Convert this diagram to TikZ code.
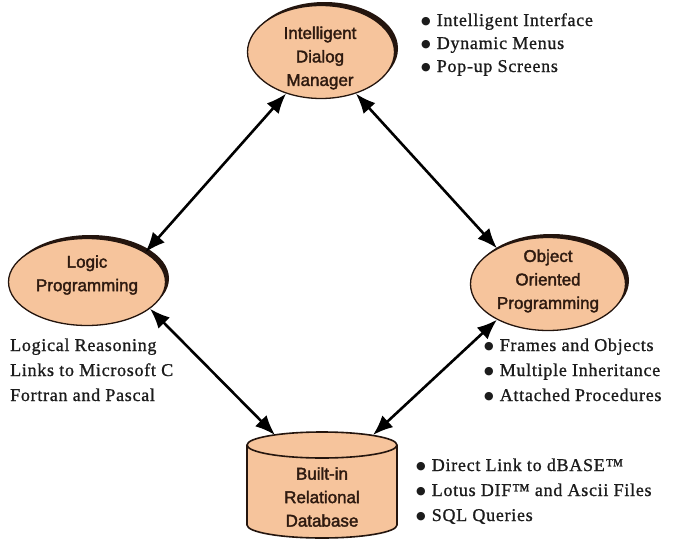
\documentclass[tikz,border=0pt]{standalone}
\usepackage{fontspec}
\setmainfont{Liberation Serif}
\newfontfamily\nodefont[FakeBold=2]{Liberation Sans}
\newfontfamily\listfont[LetterSpace=4,FakeBold=1]{Liberation Serif}
\newfontfamily\symfont{DejaVu Sans}
\newcommand{\bul}{\raisebox{1.5pt}{\symfont\fontsize{11}{11}\selectfont ●}\hspace{6pt}}
\usetikzlibrary{shapes.geometric,arrows.meta,shadows}
\definecolor{peach}{HTML}{F6C49C}
\definecolor{edgec}{HTML}{24150E}
\definecolor{ntext}{HTML}{2E1A10}
\definecolor{ltext}{HTML}{1C1C1C}
\begin{document}
\begin{tikzpicture}[x=1pt,y=-1pt,
  bubble/.style={ellipse, draw=edgec, line width=1.3pt, fill=peach, inner sep=0pt,
     drop shadow={shadow xshift=3.5pt, shadow yshift=3.5pt, fill=edgec, opacity=1}},
  ntxt/.style={font=\nodefont\fontsize{17}{23.5}\selectfont, text=ntext, align=center, inner sep=0pt},
  ltxt/.style={font=\listfont\fontsize{18}{24}\selectfont, text=ltext, anchor=base west, inner sep=0pt},
  link/.style={{Latex[length=20pt,width=16pt]}-{Latex[length=20pt,width=16pt]}, line width=2.6pt, draw=black}]
\useasboundingbox (0,0) rectangle (675,541);

% ellipses
\node[bubble, minimum width=147pt, minimum height=93pt] (top) at (321,52) {};
\node[ntxt] (topT) at (320,58) {Intelligent\\Dialog\\Manager};
\node[bubble, minimum width=157pt, minimum height=87pt] (left) at (87,282) {};
\node[ntxt] (leftT) at (87,275) {Logic\\Programming};
\node[bubble, minimum width=155pt, minimum height=93pt] (right) at (548,284) {};
\node[ntxt] (rightT) at (548,281) {Object\\Oriented\\Programming};

% cylinder
\path[fill=peach, draw=edgec, line width=1.6pt] (247,445) -- (247,525)
  arc[start angle=180, end angle=0, x radius=75, y radius=13] -- (397,445)
  arc[start angle=0, end angle=-180, x radius=75, y radius=13] -- cycle;
\draw[edgec, line width=1.6pt] (247,445) arc[start angle=180, end angle=0, x radius=75, y radius=13];
\node[ntxt] (db) at (322,497) {Built-in\\Relational\\Database};
\coordinate (dbA) at (275,435);
\coordinate (dbB) at (373,435);

% connectors
\draw[link] (top.230) -- (left.27);
\draw[link] (top.310) -- (right.145);
\draw[link] (left.337) -- (dbA);
\draw[link] (right.215) -- (dbB);

% lists
\node[ltxt] (t1) at (421,26) {\bul Intelligent Interface};
\node[ltxt] (t2) at (421,49) {\bul Dynamic Menus};
\node[ltxt] (t3) at (421,72) {\bul Pop-up Screens};

\node[ltxt] (l1) at (10,351) {Logical Reasoning};
\node[ltxt] (l2) at (10,376) {Links to Microsoft C};
\node[ltxt] (l3) at (10,401) {Fortran and Pascal};

\node[ltxt] (r1) at (484,351) {\bul Frames and Objects};
\node[ltxt] (r2) at (484,376) {\bul Multiple Inheritance};
\node[ltxt] (r3) at (484,401) {\bul Attached Procedures};

\node[ltxt] (d1) at (416,471) {\bul Direct Link to dBASE™};
\node[ltxt] (d2) at (416,496) {\bul Lotus DIF™ and Ascii Files};
\node[ltxt] (d3) at (416,521) {\bul SQL Queries};
\end{tikzpicture}
\end{document}
